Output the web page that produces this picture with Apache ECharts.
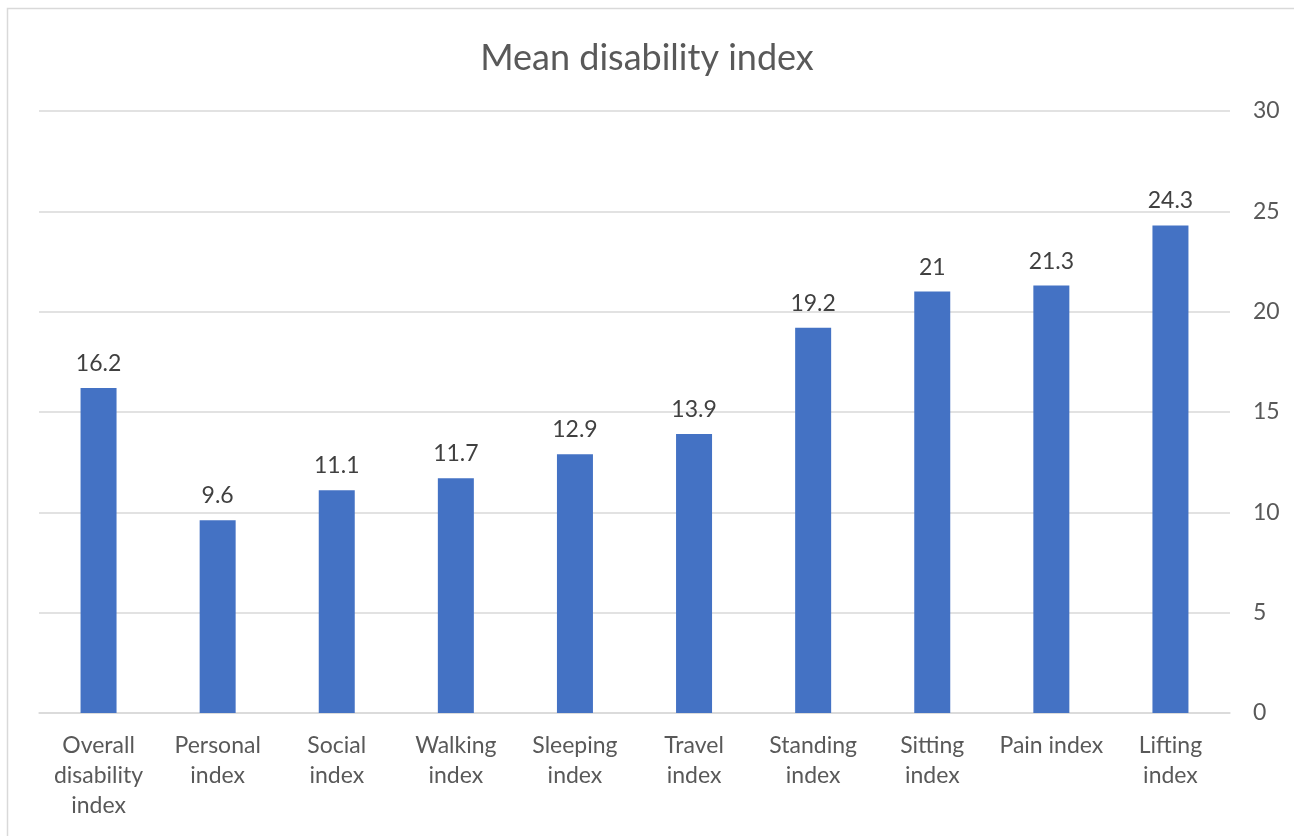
<!DOCTYPE html>
<html><head><meta charset="utf-8">
<script src="https://cdn.jsdelivr.net/npm/echarts@6/dist/echarts.min.js"></script>
<style>html,body{margin:0;padding:0;background:#fff}#c{width:1294px;height:836px}</style>
</head><body><div id="c"></div>
<script>
const categories = ["Overall\ndisability\nindex","Personal\nindex","Social\nindex","Walking\nindex","Sleeping\nindex","Travel\nindex","Standing\nindex","Sitting\nindex","Pain index","Lifting\nindex"];
const values = [16.2, 9.6, 11.1, 11.7, 12.9, 13.9, 19.2, 21, 21.3, 24.3];
const yTicks = [0, 5, 10, 15, 20, 25, 30];
const FONT = 'Lato, "Open Sans", sans-serif';
const chart = echarts.init(document.getElementById('c'));
chart.setOption({
  animation: false,
  backgroundColor: '#fff',
  graphic: [{type:'rect', shape:{x:7.5,y:8.5,width:1400,height:900}, style:{fill:'none', stroke:'#d9d9d9', lineWidth:1.5}, silent:true}],
  title: {text:'Mean disability index', left:'center', top:35, textStyle:{fontFamily:FONT, fontSize:36, fontWeight:'normal', color:'#595959'}},
  grid: {left:39, right:64, top:111, bottom:123, containLabel:false},
  xAxis: {type:'category', data:categories,
    axisLine:{lineStyle:{color:'#d9d9d9', width:1.5}}, axisTick:{show:false},
    axisLabel:{interval:0, fontFamily:FONT, fontSize:23, color:'#595959', lineHeight:30, margin:18}},
  yAxis: {type:'value', position:'right', min:yTicks[0], max:yTicks[yTicks.length-1], interval:5,
    axisLine:{show:false}, axisTick:{show:false},
    splitLine:{lineStyle:{color:'#d9d9d9', width:1.5}},
    axisLabel:{fontFamily:FONT, fontSize:23, color:'#595959', margin:23}},
  series: [{type:'bar', data:values, barWidth:36, itemStyle:{color:'#4472C4'},
    label:{show:true, position:'top', distance:13, fontFamily:FONT, fontSize:23, color:'#404040'}}]
});
</script></body></html>
